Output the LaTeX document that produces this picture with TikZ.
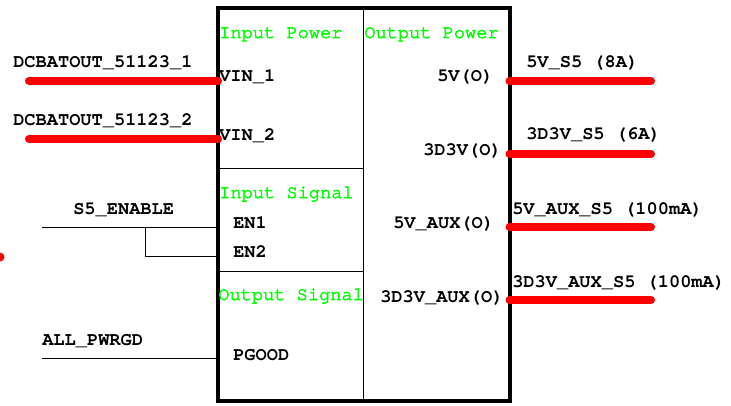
\documentclass[tikz,border=0pt]{standalone}
\usepackage{fontspec}
\setmonofont{texgyrecursor}[Extension=.otf,UprightFont=*-regular,BoldFont=*-bold]
\newfontfamily\grpfont{texgyrecursor}[Extension=.otf,UprightFont=*-regular,FakeBold=3]
\usetikzlibrary{positioning}
\definecolor{NetRed}{RGB}{255,0,0}
\definecolor{GroupGreen}{RGB}{0,255,0}

\begin{document}
\begin{tikzpicture}[x=0.75pt,y=-0.75pt,
    lbl/.style={font=\ttfamily\bfseries\fontsize{14}{16}\selectfont,anchor=base west,inner sep=0pt},
    grp/.style={font=\grpfont\fontsize{14}{16}\selectfont,text=GroupGreen,anchor=base west,inner sep=0pt},
    rail/.style={line width=6pt,NetRed,line cap=round},
    wire/.style={line width=0.75pt}]
  \useasboundingbox (0,0) rectangle (731,406);
  \draw[line width=3pt] (218,8) rectangle (509.5,401);
  \draw[wire] (363,8) -- (363,401);
  \draw[wire] (218,168) -- (363,168);
  \draw[wire] (218,271) -- (363,271);
  \node[grp] (inpow) at (219,38) {Input Power};
  \node[grp] (outpow) at (364,38) {Output Power};
  \node[grp] (insig) at (219,198) {Input Signal};
  \node[grp] (outsig) at (218,300) {Output Signal};
  \coordinate (vin1) at (218,81);
  \coordinate (vin2) at (218,139);
  \coordinate (en1) at (218,227);
  \coordinate (en2) at (218,256);
  \coordinate (pgood) at (218,358);
  \coordinate (o5v) at (509.5,81);
  \coordinate (o3v) at (509.5,154);
  \coordinate (o5aux) at (509.5,227);
  \coordinate (o3aux) at (509.5,300);
  \coordinate (bat1) at (29,81);
  \coordinate (bat2) at (29,139);
  \coordinate (s5) at (42,227);
  \coordinate (s5j) at (145,227);
  \coordinate (pwrgd) at (42,358);
  \coordinate (v5s5) at (651,81);
  \coordinate (v3s5) at (651,154);
  \coordinate (v5aux) at (651,227);
  \coordinate (v3aux) at (651,300);
  \node[lbl] (lvin1) at (219,82) {VIN\_1};
  \node[lbl] (lvin2) at (219,141) {VIN\_2};
  \node[lbl] (len1) at (233,228) {EN1};
  \node[lbl] (len2) at (233,257) {EN2};
  \node[lbl] (lpgood) at (233,360) {PGOOD};
  \node[lbl] (lo5v) at (437,82) {5V(O)};
  \node[lbl] (lo3v) at (423,156) {3D3V(O)};
  \node[lbl] (lo5aux) at (393,228) {5V\_AUX(O)};
  \node[lbl] (lo3aux) at (380,302) {3D3V\_AUX(O)};
  \draw[rail] (bat1) -- (vin1);
  \draw[rail] (bat2) -- (vin2);
  \draw[rail] (o5v) -- (v5s5);
  \draw[rail] (o3v) -- (v3s5);
  \draw[rail] (o5aux) -- (v5aux);
  \draw[rail] (o3aux) -- (v3aux);
  \draw[wire] (s5) -- (en1);
  \draw[wire] (s5j) |- (en2);
  \draw[wire] (pwrgd) -- (pgood);
  \fill[NetRed] (0,257) circle (4.5);
  \node[lbl] (nbat1) at (13,68) {DCBATOUT\_51123\_1};
  \node[lbl] (nbat2) at (13,126) {DCBATOUT\_51123\_2};
  \node[lbl] (ns5) at (73,214) {S5\_ENABLE};
  \node[lbl] (npwrgd) at (42,345) {ALL\_PWRGD};
  \node[lbl] (nv5s5) at (526,68) {5V\_S5 (8A)};
  \node[lbl] (nv3s5) at (526,140) {3D3V\_S5 (6A)};
  \node[lbl] (nv5aux) at (512,214) {5V\_AUX\_S5 (100mA)};
  \node[lbl] (nv3aux) at (512,287) {3D3V\_AUX\_S5 (100mA)};
\end{tikzpicture}
\end{document}
